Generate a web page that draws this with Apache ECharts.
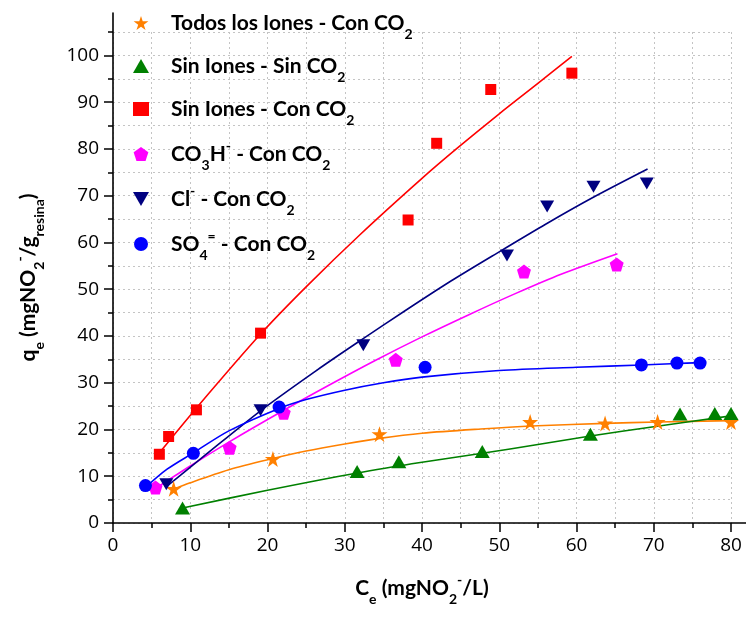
<!DOCTYPE html>
<html>
<head>
<meta charset="utf-8">
<script src="https://cdn.jsdelivr.net/npm/echarts@6/dist/echarts.min.js"></script>
<style>html,body{margin:0;padding:0;background:#fff}#c{width:746px;height:624px}</style>
</head>
<body>
<div id="c"></div>
<script>
// ---- Data ----
const seriesNames = ['Todos los Iones - Con CO2', 'Sin Iones - Sin CO2', 'Sin Iones - Con CO2', 'CO3H- - Con CO2', 'Cl- - Con CO2', 'SO4= - Con CO2'];
const legendLabels = ['Todos los Iones - Con CO{sub|2}', 'Sin Iones - Sin CO{sub|2}', 'Sin Iones - Con CO{sub|2}', 'CO{sub|3}H{sup|-} - Con CO{sub|2}', 'Cl{sup|-} - Con CO{sub|2}', 'SO{sub|4}{sup|=} - Con CO{sub|2}'];

// measured points [Ce, qe]
const todosPts = [[7.85, 7.3], [20.7, 13.7], [34.5, 19.0], [54.0, 21.6], [63.7, 21.3], [70.5, 21.6], [80.0, 21.6]];
const sinSinPts = [[9.0, 3.2], [31.6, 11.0], [37.0, 13.1], [47.8, 15.3], [61.8, 19.0], [73.4, 23.3], [77.9, 23.4], [80.0, 23.4]];
const sinConPts = [[6.0, 14.7], [7.2, 18.5], [10.8, 24.2], [19.1, 40.6], [38.2, 64.8], [41.9, 81.2], [48.9, 92.7], [59.4, 96.2]];
const co3hPts = [[5.5, 7.6], [15.1, 16.1], [22.1, 23.6], [36.6, 34.9], [53.2, 53.8], [65.2, 55.3]];
const clPts = [[6.9, 8.3], [19.1, 24.1], [32.4, 38.0], [51.0, 57.2], [56.2, 67.7], [62.2, 71.9], [69.1, 72.6]];
const so4Pts = [[4.2, 8.0], [10.4, 14.9], [21.5, 24.8], [40.4, 33.3], [68.4, 33.8], [73.0, 34.2], [76.0, 34.2]];

// fitted curves [Ce, qe]
const todosFit = [[7.85, 7.2], [10, 8.6], [15, 11.4], [20.7, 13.8], [25, 15.4], [30, 16.9], [34.5, 18.1], [40, 19.2], [47.6, 20.1], [55, 20.8], [63.7, 21.3], [70.5, 21.6], [80, 21.9]];
const sinSinFit = [[9, 3.2], [20, 7.0], [31.6, 10.7], [40, 13.0], [47.8, 14.9], [55, 16.8], [61.8, 18.6], [70, 20.6], [80, 22.9]];
const sinConFit = [[6.0, 15.0], [10.7, 24.4], [19.1, 40.4], [25, 50.5], [32, 61.7], [40, 73.7], [44.6, 80.2], [50, 87.5], [55, 94.0], [59.4, 99.8]];
const co3hFit = [[5.5, 7.4], [10, 12.2], [15, 17.3], [22, 24.0], [28, 29.5], [34, 34.8], [40, 39.8], [46, 44.5], [52, 49.0], [58, 53.2], [65.3, 57.6]];
const clFit = [[6.8, 7.6], [12, 14.6], [19.1, 24.0], [26.5, 32.8], [32, 39.0], [38, 45.6], [43.8, 51.8], [50.2, 58.2], [56, 63.9], [62, 69.5], [69.2, 75.7]];
const so4Fit = [[4.2, 7.6], [7, 11.5], [10.4, 15.0], [15, 19.7], [21.5, 24.5], [25, 26.4], [30, 28.4], [35, 30.0], [40, 31.2], [50, 32.6], [60, 33.3], [68.4, 33.8], [73, 34.1], [76, 34.3]];

const xTicks = [0, 10, 20, 30, 40, 50, 60, 70, 80];
const yTicks = [0, 10, 20, 30, 40, 50, 60, 70, 80, 90, 100];

// ---- Styles ----
const colors = ['#FF8000', '#008000', '#FF0000', '#FF00FF', '#000080', '#0000FF'];
const STAR = 'path://M50,0 L61.2,34.5 L97.6,34.5 L68.2,55.9 L79.4,90.5 L50,69.1 L20.6,90.5 L31.8,55.9 L2.4,34.5 L38.8,34.5 Z';
const PENT = 'path://M50,0 L97.6,34.5 L79.4,90.5 L20.6,90.5 L2.4,34.5 Z';
const DOWN = 'path://M0,0 L100,0 L50,86 Z';
const symbols = [STAR, 'triangle', 'rect', PENT, DOWN, 'circle'];
const symSize = [16, [15, 13], 11, 14, [14, 12], 13];
const ptsList = [todosPts, sinSinPts, sinConPts, co3hPts, clPts, so4Pts];
const fitList = [todosFit, sinSinFit, sinConFit, co3hFit, clFit, so4Fit];

const FONT = 'Lato';
const richStyles = {
  sub: { fontSize: 14, fontWeight: 'bold', fontFamily: FONT, color: '#000', padding: [22, 0, 0, 0] },
  sup: { fontSize: 14, fontWeight: 'bold', fontFamily: FONT, color: '#000', padding: [0, 0, 16, 0] }
};

const series = [];
for (let i = 0; i < 6; i++) {
  series.push({
    name: 'fit' + i, type: 'line', data: fitList[i], smooth: 0.3, showSymbol: false, silent: true,
    xAxisIndex: 0, yAxisIndex: 0, z: 2,
    lineStyle: { color: colors[i], width: 1.6 }
  });
}
for (let i = 0; i < 6; i++) {
  series.push({
    name: seriesNames[i], type: 'scatter', data: ptsList[i], symbol: symbols[i],
    symbolSize: symSize[i], xAxisIndex: 0, yAxisIndex: 0, z: 5,
    itemStyle: { color: colors[i], opacity: 1 }
  });
}

const gridLine = { show: true, lineStyle: { color: '#c4c4c4', type: [2, 3], width: 1 } };
const labelStyle = { fontFamily: 'Open Sans', fontSize: 19, color: '#000' };
const nameStyle = { fontFamily: FONT, fontWeight: 'bold', fontSize: 21, color: '#000', lineHeight: 26, rich: richStyles };

const option = {
  animation: false,
  backgroundColor: '#fff',
  grid: [
    { left: 113, right: 15, top: 32, bottom: 101 },      // main plot
    { left: 113, right: 15, top: 55.4, bottom: 101 },    // major y ticks (0..100)
    { left: 113, right: 0, top: 13, bottom: 101 }        // axis lines extension
  ],
  xAxis: [
    { gridIndex: 0, type: 'value', min: 0, max: 80, interval: 5,
      axisLine: { show: false }, axisTick: { show: true, length: 5, lineStyle: { color: '#000', width: 1.5 } },
      axisLabel: { formatter: v => (xTicks.indexOf(v) >= 0 ? String(v) : ''), margin: 13, ...labelStyle },
      splitLine: gridLine,
      name: 'C{sub|e} (mgNO{sub|2}{sup|-}/L)', nameLocation: 'middle', nameGap: 52,
      nameTextStyle: nameStyle },
    { gridIndex: 0, type: 'value', min: 0, max: 80, interval: 10, position: 'bottom',
      axisLine: { show: false }, axisTick: { show: true, length: 9, lineStyle: { color: '#000', width: 1.5 } },
      axisLabel: { show: false }, splitLine: { show: false } },
    { gridIndex: 2, type: 'value', min: 0, max: 82, show: true,
      axisLine: { show: true, onZero: false, lineStyle: { color: '#000', width: 1.6 } },
      axisTick: { show: false }, axisLabel: { show: false }, splitLine: { show: false } },
    { gridIndex: 1, type: 'value', min: 0, max: 80, show: false }
  ],
  yAxis: [
    { gridIndex: 0, type: 'value', min: 0, max: 105, interval: 5,
      axisLine: { show: false }, axisTick: { show: true, length: 5, lineStyle: { color: '#000', width: 1.5 } },
      axisLabel: { formatter: v => (yTicks.indexOf(v) >= 0 ? String(v) : ''), margin: 14, ...labelStyle },
      splitLine: gridLine,
      name: 'q{sub|e} (mgNO{sub|2}{sup|-}/g{sub|resina})', nameLocation: 'middle', nameGap: 72,
      nameTextStyle: nameStyle },
    { gridIndex: 1, type: 'value', min: 0, max: 100, interval: 10,
      axisLine: { show: false }, axisTick: { show: true, length: 9, lineStyle: { color: '#000', width: 1.5 } },
      axisLabel: { show: false }, splitLine: { show: false } },
    { gridIndex: 2, type: 'value', min: 0, max: 108.5, show: true,
      axisLine: { show: true, onZero: false, lineStyle: { color: '#000', width: 1.6 } },
      axisTick: { show: false }, axisLabel: { show: false }, splitLine: { show: false } }
  ],
  legend: {
    data: seriesNames, orient: 'vertical', left: 128, top: 5,
    itemWidth: 16, itemHeight: 14, itemGap: 12,
    formatter: name => legendLabels[seriesNames.indexOf(name)],
    textStyle: { fontFamily: FONT, fontWeight: 'bold', fontSize: 21, color: '#000', lineHeight: 26, padding: [0, 0, 0, 17], rich: richStyles }
  },
  series: series
};

const chart = echarts.init(document.getElementById('c'), null, { renderer: 'canvas' });
chart.setOption(option);
</script>
</body>
</html>
